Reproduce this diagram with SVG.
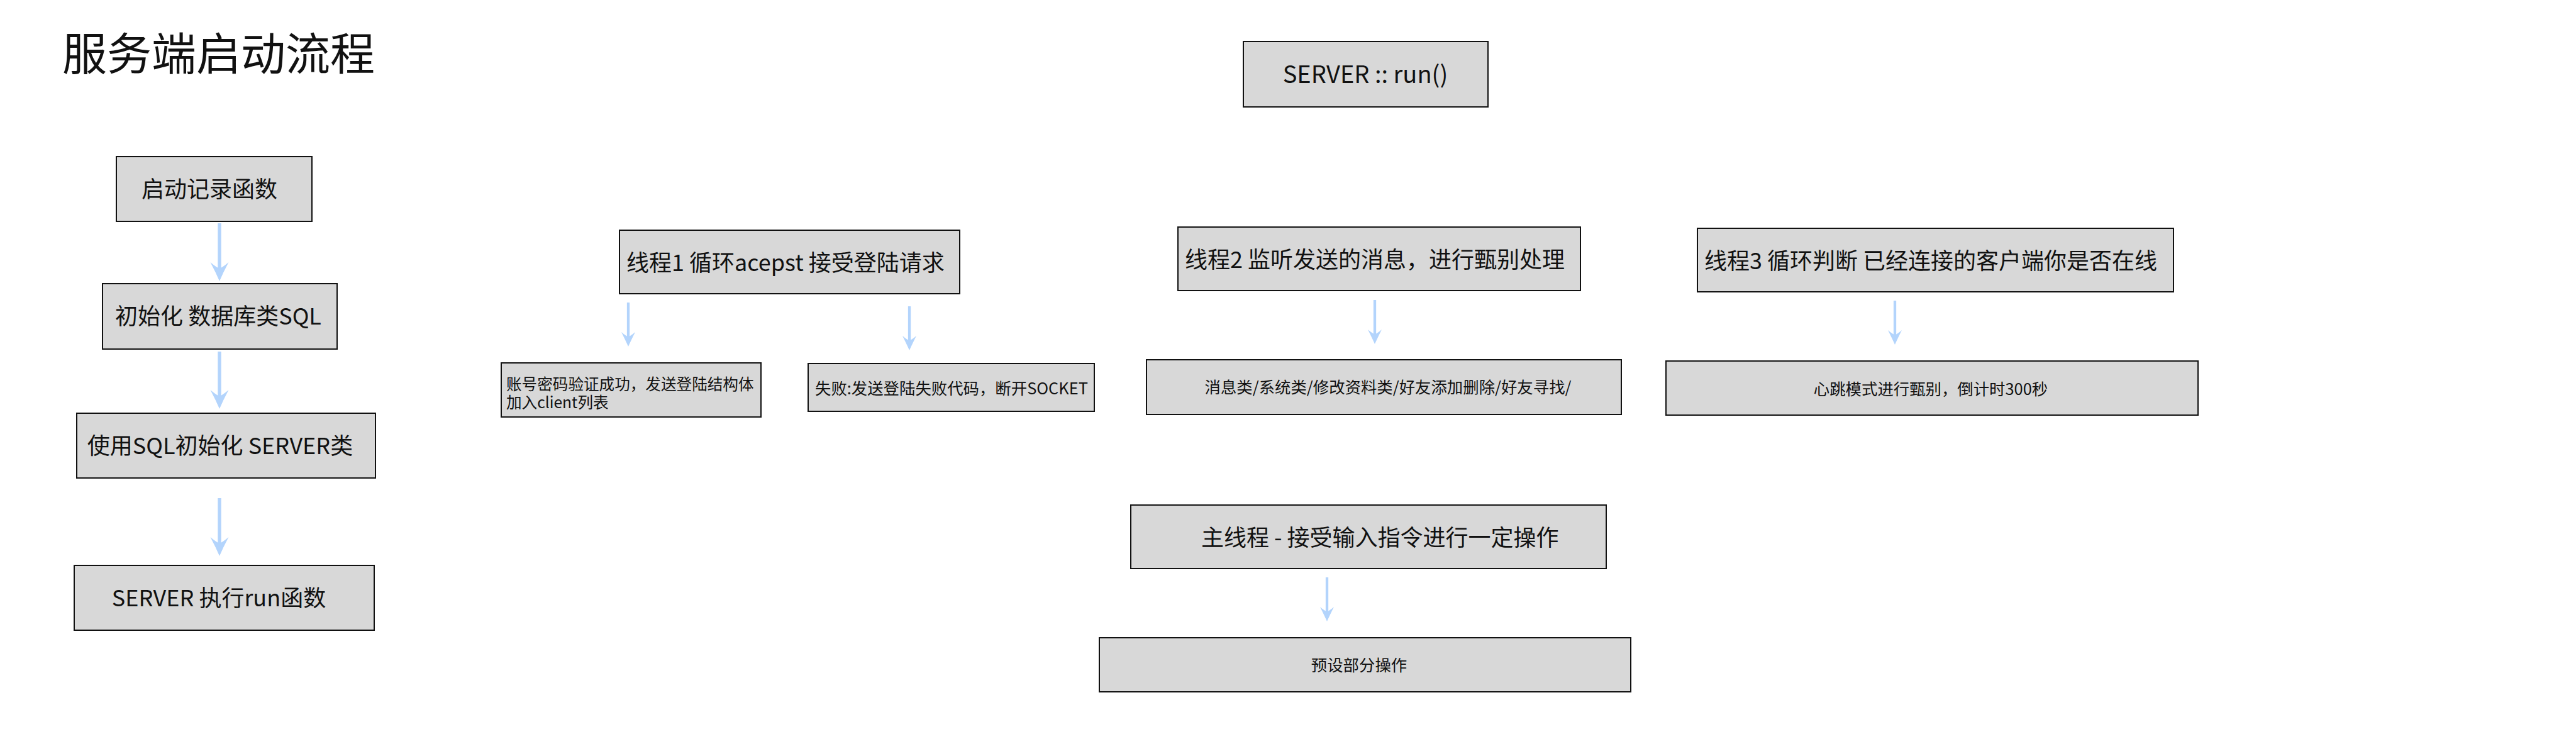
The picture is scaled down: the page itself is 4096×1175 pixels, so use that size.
<svg xmlns="http://www.w3.org/2000/svg" width="4096" height="1175" viewBox="0 0 4096 1175">
<defs>
<style>
text{font-family:"Noto Sans CJK SC","Noto Sans",sans-serif;fill:#111;}
.box{fill:#d8d8d8;stroke:#111;stroke-width:2;}
.t36{font-size:36px;}
.t25{font-size:25.4px;}
.mid{text-anchor:middle;}
.conn{stroke:#b3d4fc;fill:none;}
.thick{stroke-width:5.4;}
.thin{stroke-width:4.3;}
</style>
<marker id="ahL" viewBox="-31 -16 32 32" refX="-18" refY="0" markerWidth="32" markerHeight="32" markerUnits="userSpaceOnUse" orient="auto">
<path d="M0,0 Q-14,-6 -30,-14.5 Q-22,-5 -20,0 Q-22,5 -30,14.5 Q-14,6 0,0 Z" fill="#b3d4fc"/>
</marker>
<marker id="ahS" viewBox="-24 -12 25 24" refX="-14" refY="0" markerWidth="25" markerHeight="24" markerUnits="userSpaceOnUse" orient="auto">
<path d="M0,0 Q-10,-4.5 -23,-11 Q-17,-4 -15.5,0 Q-17,4 -23,11 Q-10,4.5 0,0 Z" fill="#b3d4fc"/>
</marker>
</defs>

<text id="title" x="99" y="111" style="font-size:71px">服务端启动流程</text>

<g id="connectors">
<line class="conn thick" x1="349" y1="355" x2="349" y2="429" marker-end="url(#ahL)"/>
<line class="conn thick" x1="349" y1="559" x2="349" y2="632" marker-end="url(#ahL)"/>
<line class="conn thick" x1="349" y1="792" x2="349" y2="866" marker-end="url(#ahL)"/>
<line class="conn thin" x1="999" y1="481" x2="999" y2="537" marker-end="url(#ahS)"/>
<line class="conn thin" x1="1446" y1="487" x2="1446" y2="543" marker-end="url(#ahS)"/>
<line class="conn thin" x1="2186" y1="477" x2="2186" y2="533" marker-end="url(#ahS)"/>
<line class="conn thin" x1="3013" y1="478" x2="3013" y2="534" marker-end="url(#ahS)"/>
<line class="conn thin" x1="2110" y1="918" x2="2110" y2="974" marker-end="url(#ahS)"/>
</g>

<g id="n-start-log">
<rect class="box" x="185" y="249" width="311" height="103"/>
<text class="t36 mid" x="333" y="314">启动记录函数</text>
</g>
<g id="n-init-sql">
<rect class="box" x="163" y="451" width="373" height="104"/>
<text class="t36 mid" x="347" y="516">初始化 数据库类SQL</text>
</g>
<g id="n-init-server">
<rect class="box" x="122" y="657" width="475" height="103"/>
<text class="t36 mid" x="350" y="722">使用SQL初始化 SERVER类</text>
</g>
<g id="n-server-run">
<rect class="box" x="118" y="899" width="477" height="103"/>
<text class="t36 mid" x="348" y="964">SERVER 执行run函数</text>
</g>

<g id="n-run">
<rect class="box" x="1977" y="66" width="389" height="104"/>
<text class="mid" x="2171" y="132" style="font-size:38px">SERVER :: run()</text>
</g>

<g id="n-thread1">
<rect class="box" x="985" y="366" width="541" height="101"/>
<text class="t36" x="996" y="431">线程1 循环acepst 接受登陆请求</text>
</g>
<g id="n-success">
<rect class="box" x="797" y="577" width="413" height="86"/>
<text x="805" y="620" style="font-size:24.6px">账号密码验证成功，发送登陆结构体</text>
<text x="805" y="649" style="font-size:24.6px">加入client列表</text>
</g>
<g id="n-fail">
<rect class="box" x="1285" y="578" width="455" height="76"/>
<text class="t25" x="1296" y="627">失败:发送登陆失败代码，断开SOCKET</text>
</g>

<g id="n-thread2">
<rect class="box" x="1873" y="361" width="640" height="101"/>
<text class="t36" x="1884" y="426">线程2 监听发送的消息，进行甄别处理</text>
</g>
<g id="n-msg">
<rect class="box" x="1823" y="572" width="755" height="87"/>
<text class="t25 mid" x="2207" y="625">消息类/系统类/修改资料类/好友添加删除/好友寻找/</text>
</g>

<g id="n-thread3">
<rect class="box" x="2699" y="363" width="757" height="101"/>
<text class="t36" x="2710" y="428">线程3 循环判断 已经连接的客户端你是否在线</text>
</g>
<g id="n-heartbeat">
<rect class="box" x="2649" y="574" width="846" height="86"/>
<text class="t25 mid" x="3070" y="628">心跳模式进行甄别，倒计时300秒</text>
</g>

<g id="n-main">
<rect class="box" x="1798" y="803" width="756" height="101"/>
<text class="t36" x="1910" y="868">主线程 - 接受输入指令进行一定操作</text>
</g>
<g id="n-preset">
<rect class="box" x="1748" y="1014" width="845" height="86"/>
<text class="t25 mid" x="2161" y="1067">预设部分操作</text>
</g>
</svg>
